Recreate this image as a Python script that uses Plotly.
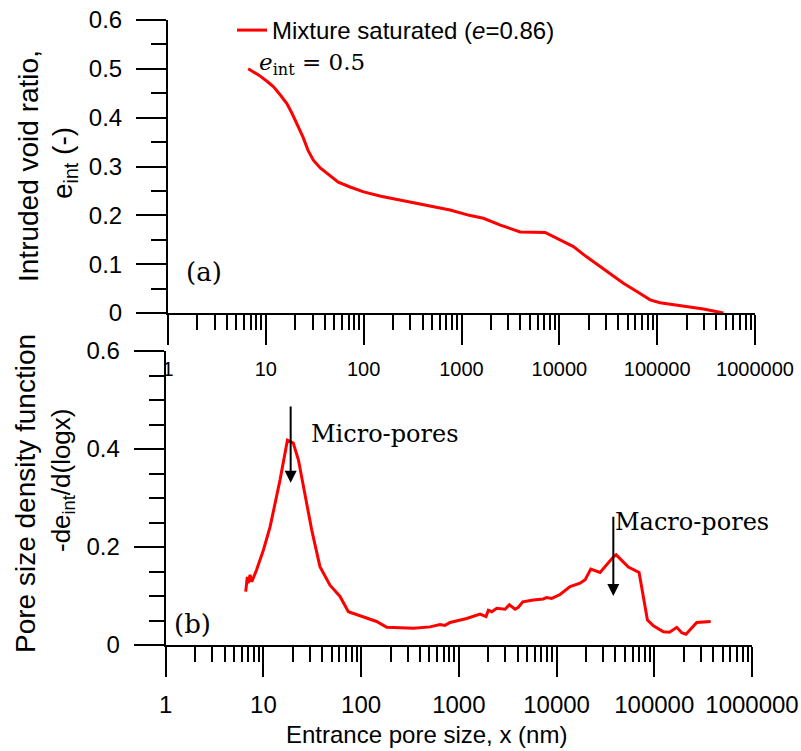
import plotly.graph_objects as go
import math

# ---------------- data ----------------
# (a) intruded void ratio vs entrance pore size
x_int = [6.6, 8.5, 10.5, 12, 14, 16.4, 18.5, 20.7, 24, 27, 30.6, 36, 42, 55, 72.6,
         100, 150, 235, 400, 764, 1200, 1675, 2500, 3975, 7160, 10000, 13930, 19000,
         26100, 35000, 45200, 62000, 84800, 107000, 150000, 217000, 297000, 476000]
e_int = [0.500, 0.487, 0.473, 0.463, 0.447, 0.429, 0.409, 0.388, 0.360, 0.333, 0.313,
         0.297, 0.286, 0.268, 0.258, 0.248, 0.239, 0.231, 0.223, 0.211, 0.200, 0.194,
         0.180, 0.166, 0.165, 0.151, 0.136, 0.115, 0.095, 0.077, 0.061, 0.044, 0.027,
         0.021, 0.017, 0.013, 0.008, 0.000]

# (b) pore size density function
x_psd = [6.59, 6.84, 7.0, 7.3, 7.6, 8.5, 10, 11.7, 14.8, 17.6, 20.2, 22.8, 31.2, 37.9,
         48, 60.8, 74, 114, 144, 183, 250, 342, 507, 642, 722, 813, 1204, 1648, 1897,
         2004, 2172, 2443, 2972, 3289, 3760, 4066, 4508, 5785, 7320, 7930, 8920, 10860,
         13750, 17400, 19580, 22400, 27880, 31400, 38200, 40700, 46500, 54300, 69900,
         85100, 98000, 124000, 143000, 170000, 191000, 211000, 272000, 378000]
psd = [0.109, 0.139, 0.126, 0.143, 0.129, 0.153, 0.194, 0.241, 0.337, 0.418, 0.412,
       0.378, 0.235, 0.160, 0.122, 0.099, 0.068, 0.054, 0.048, 0.036, 0.035, 0.034,
       0.037, 0.042, 0.040, 0.046, 0.054, 0.063, 0.058, 0.071, 0.068, 0.075, 0.073,
       0.082, 0.073, 0.077, 0.088, 0.092, 0.094, 0.097, 0.095, 0.103, 0.119, 0.126,
       0.133, 0.155, 0.148, 0.161, 0.180, 0.184, 0.173, 0.159, 0.148, 0.051, 0.039,
       0.027, 0.026, 0.036, 0.025, 0.022, 0.046, 0.048]

x_tickvals = [1, 10, 100, 1000, 10000, 100000, 1000000]
x_ticktext = ["1", "10", "100", "1000", "10000", "100000", "1000000"]
x_minor = [m * d for d in [1, 10, 100, 1000, 10000, 100000] for m in range(2, 10)]

ya_tickvals = [0, 0.1, 0.2, 0.3, 0.4, 0.5, 0.6]
ya_ticktext = ["0", "0.1", "0.2", "0.3", "0.4", "0.5", "0.6"]
ya_minor = [0.05, 0.15, 0.25, 0.35, 0.45, 0.55]

yb_tickvals = [0, 0.2, 0.4, 0.6]
yb_ticktext = ["0", "0.2", "0.4", "0.6"]
yb_minor = [0.05, 0.1, 0.15, 0.25, 0.3, 0.35, 0.45, 0.5, 0.55]

# arrow positions (data units)
micro_x, micro_tip, micro_tail = 19.0, 0.331, 0.49
macro_x, macro_tip, macro_tail = 38100, 0.10, 0.265

# ---------------- figure ----------------
W, H = 801, 751
RED = "#FF0000"
SANS = "Arial, Liberation Sans, sans-serif"
SERIF = "DejaVu Serif, serif"

def px(xp):
    return xp / W

def py(yp):
    return 1 - yp / H

fig = go.Figure()
fig.add_trace(go.Scatter(x=x_int, y=e_int, mode="lines", xaxis="x", yaxis="y",
                         line=dict(color=RED, width=3),
                         name="Mixture saturated (<i>e</i>=0.86)", showlegend=True))
fig.add_trace(go.Scatter(x=x_psd, y=psd, mode="lines", xaxis="x2", yaxis="y2",
                         line=dict(color=RED, width=3), showlegend=False))

common_x = dict(type="log", range=[0, 6], showline=True, linecolor="black", linewidth=2,
                ticks="outside", tickcolor="black", tickwidth=1.5, ticklen=30,
                showgrid=False, zeroline=False, tickmode="array",
                tickvals=x_tickvals, ticktext=x_ticktext,
                minor=dict(tickmode="array", tickvals=x_minor, ticks="outside",
                           ticklen=15, tickwidth=1.5, tickcolor="black", showgrid=False))
common_y = dict(range=[0, 0.6], showline=True, linecolor="black", linewidth=2,
                ticks="outside", tickcolor="black", tickwidth=1.5, ticklen=30,
                showgrid=False, zeroline=False, tickmode="array",
                tickfont=dict(family=SANS, size=24, color="black"),
                ticklabelstandoff=9)

fig.update_layout(
    width=W, height=H, autosize=False,
    margin=dict(l=0, r=0, t=0, b=0),
    paper_bgcolor="white", plot_bgcolor="white",
    template="none",
    font=dict(family=SANS, color="black"),
    xaxis=dict(common_x, domain=[px(168), px(755)], anchor="y",
               tickfont=dict(family=SANS, size=20, color="black"),
               ticklabelstandoff=7),
    yaxis=dict(common_y, domain=[py(313), py(20)], anchor="x",
               tickvals=ya_tickvals, ticktext=ya_ticktext,
               minor=dict(tickmode="array", tickvals=ya_minor, ticks="outside",
                          ticklen=15, tickwidth=1.5, tickcolor="black", showgrid=False)),
    xaxis2=dict(common_x, domain=[px(165.7), px(752)], anchor="y2",
                tickfont=dict(family=SANS, size=24, color="black"),
                ticklabelstandoff=7),
    yaxis2=dict(common_y, domain=[py(645), py(351)], anchor="x2",
                tickvals=yb_tickvals, ticktext=yb_ticktext,
                minor=dict(tickmode="array", tickvals=yb_minor, ticks="outside",
                           ticklen=15, tickwidth=1.5, tickcolor="black", showgrid=False)),
    legend=dict(x=px(232), y=py(8), xanchor="left", yanchor="top",
                bgcolor="rgba(0,0,0,0)", font=dict(family=SANS, size=24, color="black")),
)

def note(text, xp, yp, size, family=SANS, angle=0, xanchor="center"):
    return dict(text=text, x=px(xp), y=py(yp), xref="paper", yref="paper",
                xanchor=xanchor, yanchor="middle", textangle=angle, showarrow=False,
                font=dict(family=family, size=size, color="black"))

ann = [
    # axis titles
    note("Intruded void ratio,", 28, 166, 28, angle=-90),
    note("e<sub>int</sub> (-)", 65, 163, 28, angle=-90),
    note("Pore size density function", 25, 494, 28, angle=-90),
    note("-de<sub>int</sub>/d(logx)", 62, 480, 26, angle=-90),
    note("Entrance pore size, x (nm)", 426.5, 734, 24),
    # panel labels and notes
    note("(a)", 204, 272, 26, family=SERIF),
    note("(b)", 192, 624, 26, family=SERIF),
    note("<i>e</i><sub>int</sub> = 0.5", 257, 64, 23, family=SERIF, xanchor="left"),
    note("Micro-pores", 309, 434, 24, family=SERIF, xanchor="left"),
    note("Macro-pores", 613, 522, 24, family=SERIF, xanchor="left"),
]
# arrows
for xa, tip, tail in [(micro_x, micro_tip, micro_tail), (macro_x, macro_tip, macro_tail)]:
    ann.append(dict(text="", x=math.log10(xa), y=tip, xref="x2", yref="y2",
                    ax=math.log10(xa), ay=tail, axref="x2", ayref="y2",
                    showarrow=True, arrowhead=2, arrowsize=1.2, arrowwidth=2,
                    arrowcolor="black", standoff=0))
fig.update_layout(annotations=ann)

fig.write_html("out.html")
